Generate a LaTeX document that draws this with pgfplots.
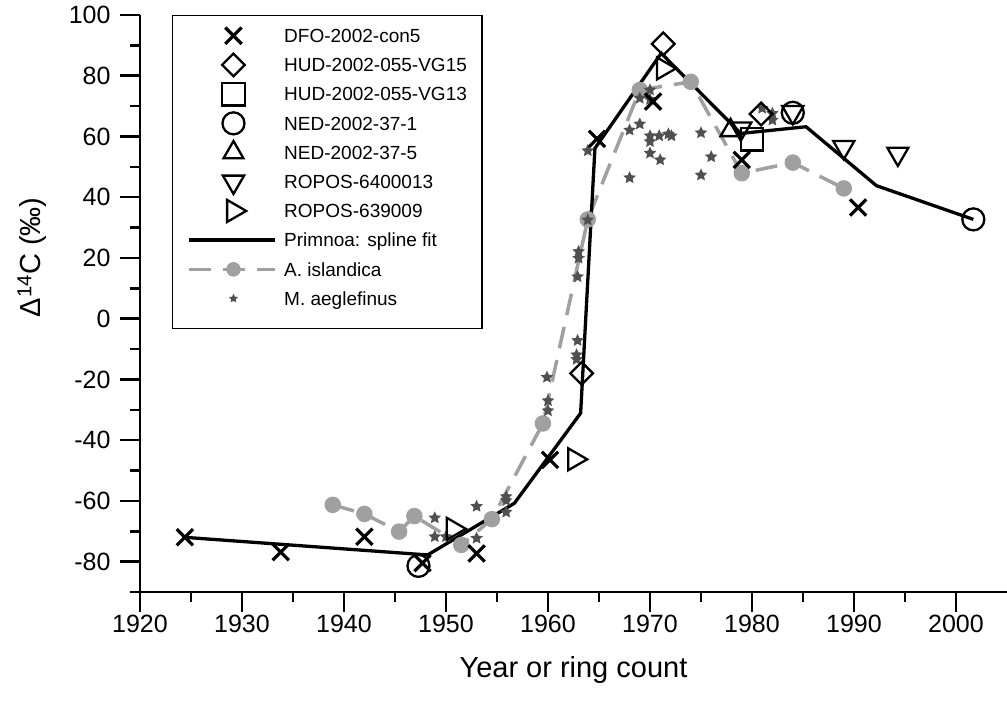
\documentclass[border=0pt]{standalone}
\usepackage{pgfplots}
\pgfplotsset{compat=1.18}
\usepackage{fontspec}
\setmainfont{Liberation Sans}
\usetikzlibrary{plotmarks}

\definecolor{shellgray}{RGB}{160,160,160}
\definecolor{stargray}{RGB}{80,80,80}

% filled five-pointed star for the haddock otolith series
\pgfdeclareplotmark{fstar}{%
  \pgfpathmoveto{\pgfpointpolar{90}{\pgfplotmarksize}}%
  \pgfpathlineto{\pgfpointpolar{126}{0.48\pgfplotmarksize}}%
  \pgfpathlineto{\pgfpointpolar{162}{\pgfplotmarksize}}%
  \pgfpathlineto{\pgfpointpolar{198}{0.48\pgfplotmarksize}}%
  \pgfpathlineto{\pgfpointpolar{234}{\pgfplotmarksize}}%
  \pgfpathlineto{\pgfpointpolar{270}{0.48\pgfplotmarksize}}%
  \pgfpathlineto{\pgfpointpolar{306}{\pgfplotmarksize}}%
  \pgfpathlineto{\pgfpointpolar{342}{0.48\pgfplotmarksize}}%
  \pgfpathlineto{\pgfpointpolar{18}{\pgfplotmarksize}}%
  \pgfpathlineto{\pgfpointpolar{54}{0.48\pgfplotmarksize}}%
  \pgfpathclose
  \pgfusepathqfill}

\pgfplotsset{
  mkleg/.style={legend image code/.code={%
      \path[draw=none, fill=none] (0pt,-12.6pt) rectangle (86pt,12.6pt);
      \draw[##1] plot coordinates {(44pt,0pt)};}},
  lnleg/.style={legend image code/.code={%
      \path[draw=none, fill=none] (0pt,-12.6pt) rectangle (86pt,12.6pt);
      \draw[##1] (0pt,0pt) -- (86pt,0pt);}},
  coral/.style={only marks, black, line width=2.3pt},
}

\begin{document}
\begin{tikzpicture}
\useasboundingbox (-140pt,-120pt) rectangle (867pt,592pt);
\begin{axis}[
  scale only axis, width=867pt, height=577pt,
  xmin=1920, xmax=2005, ymin=-90, ymax=100,
  axis lines*=left,
  axis line style={line width=2.5pt},
  tick align=outside,
  major tick length=20pt, minor tick length=10pt,
  every tick/.style={black, line width=2.5pt},
  xtick={1920,1930,1940,1950,1960,1970,1980,1990,2000},
  xticklabels={1920,1930,1940,1950,1960,1970,1980,1990,2000},
  minor xtick={1925,1935,1945,1955,1965,1975,1985,1995},
  ytick={-80,-60,-40,-20,0,20,40,60,80,100},
  yticklabels={-80,-60,-40,-20,0,20,40,60,80,100},
  minor ytick={-90,-70,-50,-30,-10,10,30,50,70,90},
  ticklabel style={font=\fontsize{25}{30}\selectfont},
  yticklabel style={xshift=-6pt},
  xlabel={Year or ring count},
  ylabel={\symbol{"0394}\textsuperscript{14}C (‰)},
  label style={font=\fontsize{29}{34}\selectfont},
  xlabel style={at={(axis description cs:0.5,-0.135)}, anchor=center},
  ylabel style={at={(axis description cs:-0.1246,0.58)}, anchor=center},
  clip=false,
  legend cell align=left,
  legend style={
    at={(axis description cs:0.0369,1)}, anchor=north west,
    draw=black, line width=1.5pt, fill=white,
    inner xsep=15pt, inner ysep=7.4pt,
    font=\fontsize{19}{22}\selectfont,
    nodes={inner sep=0pt, text height=13.6pt, text depth=0pt},
    column sep=7pt, row sep=4pt,
  },
]

% Arctica islandica shell record
\addplot[forget plot, shellgray, line width=3.5pt, dash pattern=on 22pt off 12pt,
  mark=*, mark size=6.5pt, mark options={solid}] coordinates {
  (1938.9,-61.3) (1942.0,-64.3) (1945.4,-70.1) (1946.9,-65.0) (1951.5,-74.5)
  (1954.5,-66.0) (1959.5,-34.5) (1963.9,32.7) (1969.0,75.3) (1974.0,78.0)
  (1979.0,47.9) (1984.0,51.4) (1989.0,42.9)
};

% Melanogrammus aeglefinus otoliths
\addplot[forget plot, only marks, stargray, mark=fstar, mark size=6.6pt] coordinates {
  (1948.9,-65.6) (1948.9,-71.8) (1950.0,-71.8) (1953.0,-61.8) (1953.0,-72.3)
  (1955.9,-58.6) (1955.9,-59.9) (1955.9,-63.7) (1959.9,-19.3) (1960.0,-27.0)
  (1960.0,-30.3) (1962.9,-7.2) (1962.8,-11.9) (1962.8,-13.4) (1962.9,13.8)
  (1963.0,19.9) (1963.0,22.1) (1963.9,32.5) (1963.9,55.3) (1968.0,46.4)
  (1968.0,62.1) (1969.0,64.1) (1969.0,72.6) (1970.0,72.2) (1970.0,75.3)
  (1970.0,60.2) (1970.0,58.3) (1970.0,54.5) (1970.9,60.2) (1971.0,52.3)
  (1971.8,60.8) (1972.1,60.2) (1975.0,61.2) (1976.0,53.3) (1975.0,47.3)
  (1981.0,69.3) (1982.0,67.6) (1982.0,65.4)
};

% Primnoa spline fit
\addplot[forget plot, black, line width=3.3pt] coordinates {
  (1924.4,-72.0) (1948.2,-77.8) (1956.7,-60.8) (1963.2,-31.1) (1964.6,56.1)
  (1971.1,87.4) (1978.9,61.0) (1985.3,63.2) (1992.2,43.8) (2001.7,32.7)
};

% DFO-2002-con5
\addplot[forget plot, only marks, black, mark=x, mark size=11.5pt, line width=3.2pt] coordinates {
  (1924.4,-72.0) (1933.8,-76.9) (1942.0,-71.8) (1947.7,-80.5) (1953.0,-77.3)
  (1960.2,-46.5) (1964.8,59.2) (1970.3,71.5) (1979.0,52.3) (1990.4,36.6)
};
% HUD-2002-055-VG15
\addplot[forget plot, coral, mark=square, mark size=8pt, mark options={rotate=45}] coordinates {
  (1963.3,-18.0) (1971.3,90.5) (1980.9,67.4)
};
% HUD-2002-055-VG13
\addplot[forget plot, coral, mark=square, mark size=11.3pt] coordinates {
  (1980.0,59.1)
};
% NED-2002-37-1
\addplot[forget plot, coral, mark=o, mark size=11pt] coordinates {
  (1947.3,-81.4) (1984.0,67.8) (2001.7,32.7)
};
% NED-2002-37-5
\addplot[forget plot, coral, mark=triangle, mark size=11.5pt] coordinates {
  (1977.9,62.0)
};
% ROPOS-6400013
\addplot[forget plot, coral, mark=triangle, mark size=12.2pt, mark options={rotate=180}] coordinates {
  (1978.9,62.6) (1984.0,68.0) (1989.0,56.5) (1994.3,54.3)
};
% ROPOS-639009
\addplot[forget plot, coral, mark=triangle, mark size=12.7pt, mark options={rotate=-90}] coordinates {
  (1971.3,82.4) (1962.6,-46.3) (1950.7,-69.2)
};

\addlegendimage{mkleg, only marks, black, mark=x, mark size=11.5pt, line width=3.2pt}
\addlegendentry{DFO-2002-con5}
\addlegendimage{mkleg, coral, mark=square, mark size=8pt, mark options={rotate=45}}
\addlegendentry{HUD-2002-055-VG15}
\addlegendimage{mkleg, coral, mark=square, mark size=11.3pt}
\addlegendentry{HUD-2002-055-VG13}
\addlegendimage{mkleg, coral, mark=o, mark size=11pt}
\addlegendentry{NED-2002-37-1}
\addlegendimage{mkleg, coral, mark=triangle, mark size=11.5pt}
\addlegendentry{NED-2002-37-5}
\addlegendimage{mkleg, coral, mark=triangle, mark size=12.2pt, mark options={rotate=180}}
\addlegendentry{ROPOS-6400013}
\addlegendimage{mkleg, coral, mark=triangle, mark size=12.7pt, mark options={rotate=-90}}
\addlegendentry{ROPOS-639009}
\addlegendimage{lnleg, black, line width=3.3pt}
\addlegendentry{Primnoa: spline fit}
\addlegendimage{legend image code/.code={%
    \path[draw=none, fill=none] (0pt,-12.6pt) rectangle (86pt,12.6pt);
    \draw[shellgray, line width=3.5pt, dash pattern=on 22pt off 12pt] (0pt,0pt) -- (86pt,0pt);
    \fill[shellgray] (44pt,0pt) circle (6.5pt);}}
\addlegendentry{A. islandica}
\addlegendimage{legend image code/.code={%
    \path[draw=none, fill=none] (0pt,-22.6pt) rectangle (86pt,12.6pt);
    \draw[stargray, only marks, mark=fstar, mark size=4.8pt] plot coordinates {(44pt,0pt)};}}
\addlegendentry{M. aeglefinus}
\end{axis}
\end{tikzpicture}
\end{document}
